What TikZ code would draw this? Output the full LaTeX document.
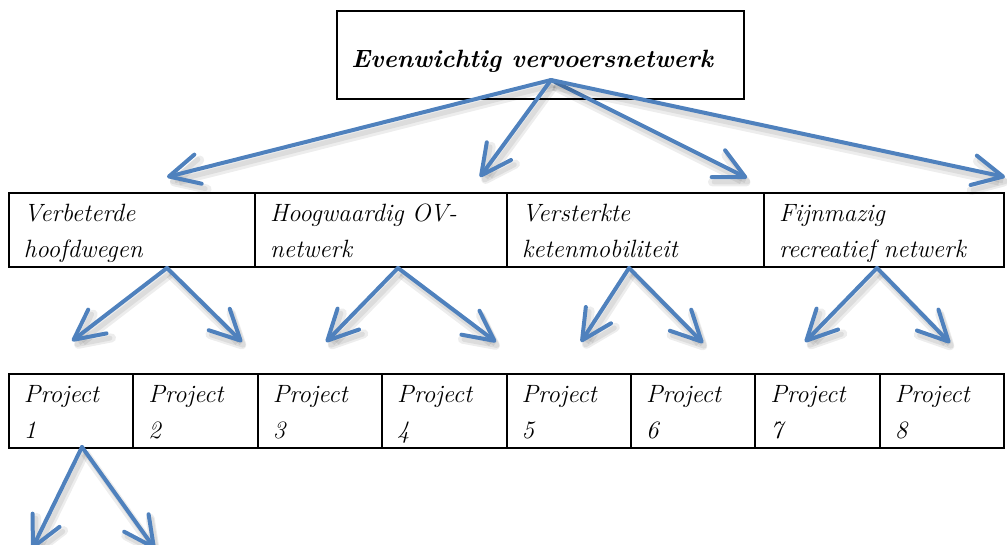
\documentclass[tikz,border=0pt]{standalone}
\usetikzlibrary{arrows.meta}
\definecolor{arrowblue}{HTML}{4F81BD}
% struts keeping the two text lines of every cell at the same height
\newcommand{\cellhi}{\rule{0pt}{13.8pt}}
\newcommand{\celllo}{\rule[-4.2pt]{0pt}{4.2pt}}
\tikzset{
  cell/.style={draw,line width=1pt,anchor=north west,inner xsep=7.5pt,inner ysep=0pt,
    minimum height=37pt,align=left,font=\itshape\fontsize{12.5}{18}\selectfont},
  projcell/.style={cell,minimum width=62.2pt,text width=47.2pt},
  arr/.style={draw=arrowblue,line width=2pt,line cap=round,
    -{Straight Barb[length=15pt,width=15pt,round]},
    preaction={draw=black,opacity=0.07,line width=4.5pt,
      transform canvas={shift={(1.5pt,-3pt)}}},
    preaction={draw=black,opacity=0.07,line width=2.5pt,
      transform canvas={shift={(1.5pt,-2.5pt)}}}},
}

\begin{document}
\begin{tikzpicture}[x=0.5pt,y=-0.5pt]
  \useasboundingbox (0,0) rectangle (1007,545);

  % main goal
  \node[draw,line width=1pt,anchor=north west,minimum width=203.5pt,minimum height=44pt] (top) at (336,10) {};
  \node[anchor=base west,inner sep=0pt,font=\bfseries\itshape\fontsize{12.5}{18}\selectfont] (toptxt) at (351,68) {Evenwichtig vervoersnetwerk};

  % sub goals
  \node[cell,minimum width=123pt,text width=108pt] (v1) at (8,192) {\cellhi Verbeterde\\hoofdwegen\celllo};
  \node[cell,minimum width=126pt,text width=111pt] (v2) at (254,192) {\cellhi Hoogwaardig OV-\\netwerk\celllo};
  \node[cell,minimum width=128.5pt,text width=113.5pt] (v3) at (506,192) {\cellhi Versterkte\\ketenmobiliteit\celllo};
  \node[cell,minimum width=120pt,text width=105pt] (v4) at (763,192) {\cellhi Fijnmazig\\recreatief netwerk\celllo};

  % projects
  \foreach \i in {1,...,8}
    \node[projcell] (p\i) at ({8+(\i-1)*124.4},373) {\cellhi Project\\\i\celllo};

  % arrows from the main goal
  \coordinate (hub) at (551,80);
  \coordinate (t1) at (167,177);
  \coordinate (t2) at (480,177);
  \coordinate (t3) at (747,178);
  \coordinate (t4) at (1005,177);
  \foreach \t in {t1,t2,t3,t4}
    \draw[arr] (hub) -- (\t);

  % arrows from the sub goals
  \coordinate (s1) at (167,268);
  \coordinate (s2) at (398,268);
  \coordinate (s3) at (629,268);
  \coordinate (s4) at (877,268);
  \coordinate (a1) at (72,341);  \coordinate (b1) at (242,342);
  \coordinate (a2) at (326,342); \coordinate (b2) at (496,342);
  \coordinate (a3) at (581,342); \coordinate (b3) at (703,343);
  \coordinate (a4) at (805,342); \coordinate (b4) at (950,343);
  \foreach \k in {1,...,4} {
    \draw[arr] (s\k) -- (a\k);
    \draw[arr] (s\k) -- (b\k);
  }

  % arrows below project 1
  \coordinate (q1) at (82,447);
  \coordinate (qa) at (32,549);
  \coordinate (qb) at (155,549);
  \draw[arr] (q1) -- (qa);
  \draw[arr] (q1) -- (qb);
\end{tikzpicture}
\end{document}
